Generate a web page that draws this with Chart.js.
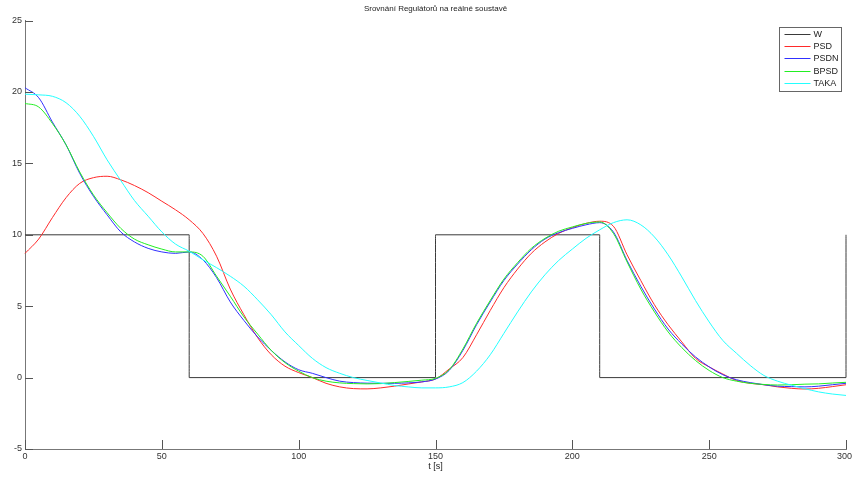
<!DOCTYPE html>
<html>
<head>
<meta charset="utf-8">
<title>Srovnání Regulátorů</title>
<script src="https://cdn.jsdelivr.net/npm/chart.js@4.4.1/dist/chart.umd.min.js"></script>
<style>
  body { margin: 0; background: #fff; }
  #wrap { width: 852px; height: 477px; position: relative; }
</style>
</head>
<body>
<div id="wrap"><canvas id="regChart"></canvas></div>
<script>
// time axis for the measured responses [s]
const timeS = [
  0, 5, 10, 15, 20, 25, 30, 35, 40, 45, 50, 55, 60, 65, 70, 75, 80, 85, 90, 95,
  100, 105, 110, 115, 120, 125, 130, 135, 140, 145, 150, 155, 160, 165, 170, 175, 180, 185, 190, 195,
  200, 205, 210, 215, 220, 225, 230, 235, 240, 245, 250, 255, 260, 265, 270, 275, 280, 285, 290, 295, 300
];

// reference signal W (step changes)
const wTime = [0, 60, 60, 150, 150, 210, 210, 300, 300];
const wValues = [10, 10, 0, 0, 10, 10, 0, 0, 10];

const psdValues = [
  8.7, 9.7, 11.2, 12.6, 13.6, 14.0, 14.1, 13.85, 13.45, 12.95, 12.35, 11.75, 11.05, 10.1, 8.5, 6.2, 4.4, 2.8, 1.6, 0.8,
  0.35, 0.0, -0.4, -0.65, -0.77, -0.79, -0.72, -0.6, -0.45, -0.3, -0.1, 0.6, 1.4, 3.0, 4.7, 6.3, 7.6, 8.7, 9.5, 10.1,
  10.5, 10.8, 10.95, 10.6, 8.6, 6.8, 5.1, 3.7, 2.5, 1.35, 0.75, 0.25, -0.2, -0.4, -0.5, -0.65, -0.75, -0.8, -0.75, -0.63, -0.5
];

const psdnValues = [
  20.3, 19.6, 17.9, 16.3, 14.3, 12.7, 11.4, 10.2, 9.5, 9.05, 8.8, 8.7, 8.8, 8.25, 7.0, 5.3, 4.0, 2.85, 1.9, 1.1,
  0.55, 0.3, 0.0, -0.25, -0.35, -0.39, -0.4, -0.4, -0.37, -0.3, -0.1, 0.5, 1.9, 3.7, 5.3, 6.8, 7.95, 8.95, 9.7, 10.15,
  10.45, 10.7, 10.85, 10.2, 8.2, 6.4, 4.8, 3.4, 2.35, 1.45, 0.75, 0.2, -0.15, -0.35, -0.5, -0.6, -0.63, -0.65, -0.6, -0.5, -0.4
];

const bpsdValues = [
  19.2, 18.95, 17.8, 16.3, 14.4, 12.8, 11.55, 10.45, 9.7, 9.3, 9.0, 8.8, 8.8, 8.5, 7.1, 5.7, 4.25, 3.05, 1.9, 1.05,
  0.45, 0.0, -0.25, -0.37, -0.42, -0.44, -0.42, -0.35, -0.27, -0.18, -0.05, 0.55, 2.0, 3.8, 5.4, 6.9, 8.05, 9.05, 9.75, 10.25,
  10.55, 10.8, 10.9, 10.1, 8.1, 6.2, 4.6, 3.2, 2.1, 1.2, 0.5, 0.0, -0.25, -0.4, -0.48, -0.52, -0.5, -0.46, -0.44, -0.38, -0.33
];

const takaValues = [
  19.85, 19.8, 19.7, 19.25, 18.3, 16.9, 15.25, 13.8, 12.4, 11.3, 10.2, 9.35, 8.85, 8.25, 7.7, 7.1, 6.4, 5.45, 4.4, 3.2,
  2.25, 1.35, 0.7, 0.3, 0.0, -0.2, -0.38, -0.55, -0.65, -0.72, -0.72, -0.65, -0.35, 0.45, 1.6, 3.1, 4.6, 6.0, 7.2, 8.2,
  9.0, 9.75, 10.35, 10.85, 11.05, 10.7, 9.85, 8.6, 7.05, 5.4, 3.9, 2.6, 1.7, 0.85, 0.15, -0.25, -0.53, -0.78, -1.0, -1.15, -1.25
];

const seriesLabels = ['W', 'PSD', 'PSDN', 'BPSD', 'TAKA'];
const seriesColors = ['#3a3a3a', '#ff2a2a', '#3030ff', '#22ee22', '#22ffff'];

const xTicks = [0, 50, 100, 150, 200, 250, 300];
const yTicks = [-5, 0, 5, 10, 15, 20, 25];

const FONT = '"Liberation Sans", Arial, sans-serif';

function toPoints(xs, ys) {
  return xs.map((x, i) => ({ x: x, y: ys[i] }));
}

// MATLAB style inward tick marks + x tick labels (kept inside the canvas)
const inwardTicks = {
  id: 'inwardTicks',
  afterDatasetsDraw(chart) {
    const { ctx, chartArea, scales, width } = chart;
    ctx.save();
    ctx.strokeStyle = '#555';
    ctx.lineWidth = 1;
    ctx.beginPath();
    xTicks.forEach(v => {
      const px = Math.round(scales.x.getPixelForValue(v)) + 0.5;
      ctx.moveTo(px, chartArea.bottom);
      ctx.lineTo(px, chartArea.bottom - 9);
    });
    yTicks.forEach(v => {
      const py = Math.round(scales.y.getPixelForValue(v)) + 0.5;
      ctx.moveTo(chartArea.left, py);
      ctx.lineTo(chartArea.left + 8, py);
    });
    ctx.stroke();

    ctx.font = '9px ' + FONT;
    ctx.fillStyle = '#333';
    ctx.textAlign = 'center';
    ctx.textBaseline = 'top';
    xTicks.forEach(v => {
      const label = String(v);
      const half = ctx.measureText(label).width / 2;
      const px = Math.min(scales.x.getPixelForValue(v), width - half);
      ctx.fillText(label, px, chartArea.bottom + 3);
    });
    ctx.restore();
  }
};

// legend box in the upper right corner of the axes
const boxLegend = {
  id: 'boxLegend',
  afterDraw(chart) {
    const { ctx, chartArea } = chart;
    const w = 62, h = 64;
    const x0 = Math.round(chartArea.right - 5 - w) + 0.5;
    const y0 = Math.round(chartArea.top + 6) + 0.5;
    ctx.save();
    ctx.fillStyle = '#fff';
    ctx.fillRect(x0, y0, w, h);
    ctx.strokeStyle = '#666';
    ctx.lineWidth = 1;
    ctx.strokeRect(x0, y0, w, h);
    ctx.font = '9px ' + FONT;
    ctx.textBaseline = 'middle';
    chart.data.datasets.forEach((ds, i) => {
      const y = Math.round(y0 + 6 + i * 12.4) + 0.5;
      ctx.strokeStyle = ds.borderColor;
      ctx.beginPath();
      ctx.moveTo(x0 + 5, y);
      ctx.lineTo(x0 + 31, y);
      ctx.stroke();
      ctx.fillStyle = '#222';
      ctx.fillText(ds.label, x0 + 34, y + 0.5);
    });
    ctx.restore();
  }
};

const datasets = [
  { data: toPoints(wTime, wValues), tension: 0, order: 5 },
  { data: toPoints(timeS, psdValues), order: 4 },
  { data: toPoints(timeS, psdnValues), order: 3 },
  { data: toPoints(timeS, bpsdValues), order: 2 },
  { data: toPoints(timeS, takaValues), order: 1 }
].map((d, i) => Object.assign({
  label: seriesLabels[i],
  borderColor: seriesColors[i],
  backgroundColor: seriesColors[i],
  borderWidth: 1,
  pointRadius: 0,
  fill: false,
  clip: 3,
  cubicInterpolationMode: 'monotone'
}, d));

new Chart(document.getElementById('regChart'), {
  type: 'line',
  data: { datasets: datasets },
  options: {
    responsive: true,
    maintainAspectRatio: false,
    animation: false,
    layout: { padding: { top: 0, right: 6, bottom: 0, left: 0 } },
    plugins: {
      legend: { display: false },
      tooltip: { enabled: false },
      title: {
        display: true,
        text: 'Srovnání Regulátorů na reálné soustavě',
        color: '#222',
        fullSize: false,
        font: { family: FONT, size: 8, weight: 'normal' },
        padding: { top: 4, bottom: 7 }
      }
    },
    scales: {
      x: {
        type: 'linear',
        min: 0,
        max: 300,
        afterBuildTicks: axis => { axis.ticks = xTicks.map(v => ({ value: v })); },
        afterFit: axis => {
          axis.height = 28;
          axis.paddingLeft = 0;
          axis.paddingRight = 0;
        },
        grid: { display: false, drawTicks: false },
        border: { display: true, color: '#777', width: 1 },
        ticks: { display: false },
        title: {
          display: true,
          text: 't [s]',
          color: '#222',
          padding: { top: 0, bottom: 5 },
          font: { family: FONT, size: 9 }
        }
      },
      y: {
        min: -5,
        max: 25,
        afterBuildTicks: axis => { axis.ticks = yTicks.map(v => ({ value: v })); },
        afterFit: axis => {
          axis.width = 25;
          axis.paddingTop = 0;
          axis.paddingBottom = 0;
        },
        grid: { display: false, drawTicks: false },
        border: { display: true, color: '#777', width: 1 },
        ticks: { color: '#333', padding: 3, font: { family: FONT, size: 9 } }
      }
    }
  },
  plugins: [inwardTicks, boxLegend]
});
</script>
</body>
</html>
